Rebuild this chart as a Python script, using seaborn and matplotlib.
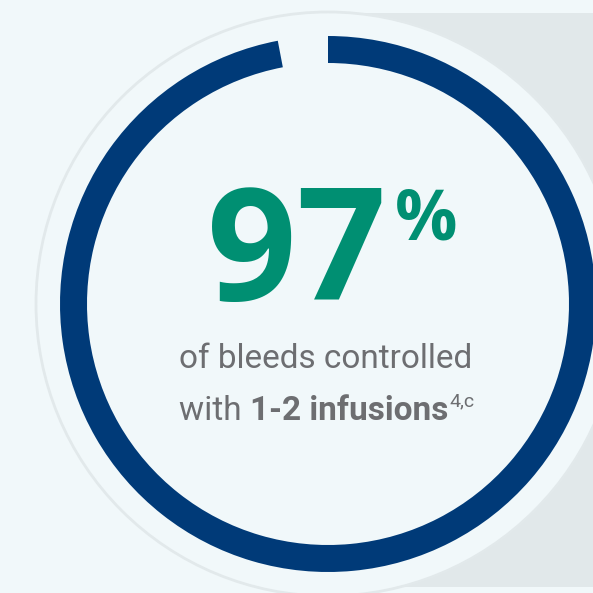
import matplotlib
matplotlib.use("Agg")
import matplotlib.pyplot as plt
import seaborn as sns
from matplotlib.patches import Circle, Rectangle

# ---- data ----
labels = ["controlled with 1-2 infusions", "other"]
values = [97, 3]
headline = "97"
line1 = "of bleeds controlled"
line2_regular = "with "
line2_bold = "1-2 infusions"
line2_sup = "4,c"

BG = "#f1f8fa"
PANEL = "#e1e8ea"
BLUE = "#003a78"
GREEN = "#008f72"
GREY = "#6d6e71"

sns.set_theme(style="white")
plt.rcParams["font.family"] = ["Open Sans", "DejaVu Sans"]

W = H = 593
fig = plt.figure(figsize=(W / 100, H / 100), dpi=100, facecolor=BG)
ax = fig.add_axes([0, 0, 1, 1])

cx, cy = 328, H - 304

ax.add_patch(Rectangle((328, H - 587), W - 328, 587 - 13, facecolor=PANEL, edgecolor="none", zorder=0))
ax.add_patch(Circle((cx, cy), 292, facecolor=BG, edgecolor="#e2e9eb", linewidth=2, zorder=1))

ax.pie(values, colors=[BLUE, (0, 0, 0, 0)], startangle=90, counterclock=False,
       center=(cx, cy), radius=268, frame=True,
       wedgeprops=dict(width=27, edgecolor="none", linewidth=0))
ax.set_xlim(0, W)
ax.set_ylim(0, H)
ax.set_aspect("equal")
ax.axis("off")

HEAD = dict(family=["Open Sans", "DejaVu Sans"], fontweight="bold", color=GREEN, zorder=5)
ax.text(297, H - 300, headline, fontsize=113, ha="center", va="baseline", **HEAD)
ax.text(426, H - 240, "%", fontsize=50, ha="center", va="baseline", **HEAD)

BODY = dict(family=["Roboto", "DejaVu Sans"], color=GREY, zorder=5)
ax.text(326, H - 368, line1, fontsize=24, ha="center", va="baseline", **BODY)

fig.canvas.draw()
r = fig.canvas.get_renderer()
t1 = ax.text(0, H - 420, line2_regular, fontsize=24, va="baseline", **BODY)
t2 = ax.text(0, H - 420, line2_bold, fontsize=24, fontweight="bold", va="baseline", **BODY)
t3 = ax.text(0, H - 406, line2_sup, fontsize=14, va="baseline", **BODY)
w1 = t1.get_window_extent(r).width
w2 = t2.get_window_extent(r).width
w3 = t3.get_window_extent(r).width
total = w1 + w2 + w3
x0 = 326 - total / 2
t1.set_x(x0)
t2.set_x(x0 + w1)
t3.set_x(x0 + w1 + w2 + 1)

fig.savefig("out.png", dpi=100, facecolor=BG)
